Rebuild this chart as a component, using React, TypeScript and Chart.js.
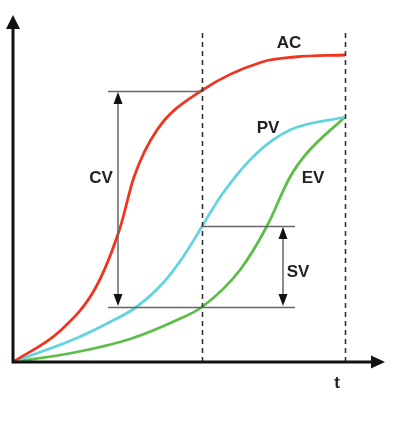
import React, { useEffect, useRef } from "react";
import { Chart, registerables } from "chart.js";

Chart.register(...registerables);

// time and cost in arbitrary units
const AC_T = [0, 47, 83, 107, 121, 144, 188, 249, 282, 332];
const AC_V = [0, 31, 75, 134, 185, 232, 271, 300, 305, 307];
const PV_T = [0, 64, 97, 122, 150, 170, 210, 244, 277, 332];
const PV_V = [0, 24, 40, 54, 79, 105, 169, 209, 232, 245];
const EV_T = [0, 64, 117, 164, 189, 227, 254, 277, 294, 332];
const EV_V = [0, 10, 23, 42, 55, 92, 136, 185, 209, 245];

const STATUS_T = 188.5;
const END_T = 332;
const X_MAX = 372;
const Y_MAX = 347;
const AC_AT_STATUS = 271;
const PV_AT_STATUS = 136;
const EV_AT_STATUS = 55;

const zip = (t: number[], v: number[]) => t.map((x, i) => ({ x, y: v[i] }));

function tri(ctx: CanvasRenderingContext2D, tipX: number, tipY: number, dir: "up" | "down" | "right", len: number, half: number) {
  ctx.beginPath();
  ctx.moveTo(tipX, tipY);
  if (dir === "up") {
    ctx.lineTo(tipX - half, tipY + len);
    ctx.lineTo(tipX + half, tipY + len);
  } else if (dir === "down") {
    ctx.lineTo(tipX - half, tipY - len);
    ctx.lineTo(tipX + half, tipY - len);
  } else {
    ctx.lineTo(tipX - len, tipY - half);
    ctx.lineTo(tipX - len, tipY + half);
  }
  ctx.closePath();
  ctx.fill();
}

const overlay = {
  id: "evmOverlay",
  afterDatasetsDraw(chart: any) {
    const { ctx, scales } = chart;
    const xs = scales.x, ys = scales.y;
    const X = (v: number) => xs.getPixelForValue(v);
    const Y = (v: number) => ys.getPixelForValue(v);
    ctx.save();

    // dashed verticals
    ctx.strokeStyle = "#333";
    ctx.lineWidth = 1.6;
    ctx.setLineDash([5, 4]);
    [STATUS_T, END_T].forEach((t) => {
      ctx.beginPath();
      ctx.moveTo(Math.round(X(t)) + 0.5, Y(Y_MAX) + 18);
      ctx.lineTo(Math.round(X(t)) + 0.5, Y(0));
      ctx.stroke();
    });
    ctx.setLineDash([]);

    // dimension lines
    ctx.strokeStyle = "#666";
    ctx.lineWidth = 1.5;
    const cvX = X(105);
    const svX = X(270);
    const hl = (x1: number, x2: number, y: number) => {
      ctx.beginPath();
      ctx.moveTo(x1, Math.round(y) + 0.5);
      ctx.lineTo(x2, Math.round(y) + 0.5);
      ctx.stroke();
    };
    hl(X(95), X(STATUS_T), Y(AC_AT_STATUS));
    hl(X(95), X(STATUS_T), Y(EV_AT_STATUS));
    hl(X(STATUS_T), X(282), Y(PV_AT_STATUS));
    hl(X(STATUS_T), X(282), Y(EV_AT_STATUS));
    const vl = (x: number, y1: number, y2: number) => {
      ctx.beginPath();
      ctx.moveTo(x, y1);
      ctx.lineTo(x, y2);
      ctx.stroke();
    };
    vl(cvX, Y(AC_AT_STATUS) + 6, Y(EV_AT_STATUS) - 6);
    vl(svX, Y(PV_AT_STATUS) + 6, Y(EV_AT_STATUS) - 6);
    ctx.fillStyle = "#111";
    tri(ctx, cvX, Y(AC_AT_STATUS) + 1, "up", 12, 4.5);
    tri(ctx, cvX, Y(EV_AT_STATUS) - 1, "down", 12, 4.5);
    tri(ctx, svX, Y(PV_AT_STATUS) + 1, "up", 12, 4.5);
    tri(ctx, svX, Y(EV_AT_STATUS) - 1, "down", 12, 4.5);

    // axes
    ctx.strokeStyle = "#111";
    ctx.lineWidth = 3;
    ctx.beginPath();
    ctx.moveTo(X(0), Y(Y_MAX) + 12);
    ctx.lineTo(X(0), Y(0));
    ctx.lineTo(X(X_MAX) - 12, Y(0));
    ctx.stroke();
    tri(ctx, X(0), Y(Y_MAX), "up", 14, 7);
    tri(ctx, X(X_MAX), Y(0), "right", 14, 6.5);

    // labels
    ctx.fillStyle = "#222";
    ctx.font = "bold 17px 'Liberation Sans', Arial, sans-serif";
    ctx.textAlign = "center";
    ctx.textBaseline = "middle";
    const labels: [string, number, number][] = [
      ["AC", 276, 319],
      ["PV", 255, 234],
      ["EV", 300, 184],
      ["CV", 88, 184],
      ["SV", 285, 90],
    ];
    labels.forEach(([s, x, y]) => ctx.fillText(s, X(x), Y(y)));
    ctx.fillText("t", X(324), Y(0) + 21);
    ctx.restore();
  },
};

export default function App() {
  const ref = useRef<HTMLCanvasElement>(null);
  useEffect(() => {
    const canvas = ref.current!;
    const mk = (label: string, t: number[], v: number[], color: string) => ({
      label,
      data: zip(t, v),
      borderColor: color,
      borderWidth: 2.8,
      pointRadius: 0,
      showLine: true,
      fill: false,
      cubicInterpolationMode: "monotone" as const,
      clip: false as any,
    });
    const chart = new Chart(canvas, {
      type: "scatter",
      data: {
        datasets: [
          mk("AC", AC_T, AC_V, "rgb(240,52,32)"),
          mk("PV", PV_T, PV_V, "rgb(98,212,222)"),
          mk("EV", EV_T, EV_V, "rgb(92,190,72)"),
        ],
      },
      options: {
        animation: false,
        responsive: false,
        events: [],
        layout: { padding: { left: 13, top: 15, right: 10, bottom: 60 } },
        plugins: { legend: { display: false }, tooltip: { enabled: false } },
        scales: {
          x: { type: "linear", min: 0, max: X_MAX, display: false },
          y: { type: "linear", min: 0, max: Y_MAX, display: false },
        },
      },
      plugins: [overlay],
    });
    return () => chart.destroy();
  }, []);
  return (
    <div style={{ position: "fixed", left: 0, top: 0, width: 395, height: 422, background: "#fff" }}>
      <canvas ref={ref} width={395} height={422} style={{ display: "block" }} />
    </div>
  );
}
